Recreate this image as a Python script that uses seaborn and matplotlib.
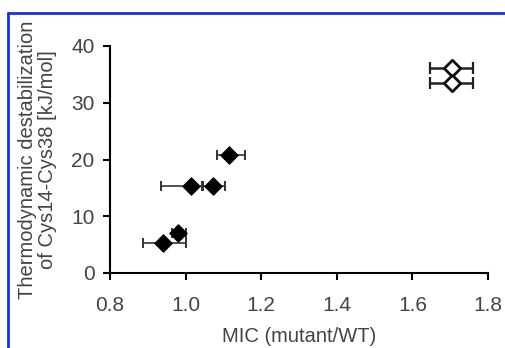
import matplotlib
matplotlib.use("Agg")
import matplotlib.pyplot as plt
import seaborn as sns
import pandas as pd
from matplotlib.lines import Line2D

sns.set_theme(style="ticks")
plt.rcParams['font.family'] = ['Liberation Sans', 'DejaVu Sans']

# filled diamonds
mic_filled = [0.941, 0.979, 1.014, 1.073, 1.115]
dG_filled = [5.3, 7.0, 15.4, 15.4, 20.8]
err_lo_filled = [0.055, 0.015, 0.079, 0.028, 0.032]
err_hi_filled = [0.059, 0.021, 0.030, 0.031, 0.042]
# open diamonds
mic_open = [1.704, 1.704]
dG_open = [36.1, 33.4]
err_lo_open = [0.057, 0.057]
err_hi_open = [0.057, 0.057]

df_f = pd.DataFrame({"MIC": mic_filled, "dG": dG_filled})
df_o = pd.DataFrame({"MIC": mic_open, "dG": dG_open})

fig = plt.figure(figsize=(5.06, 3.48), dpi=100)
ax = fig.add_axes([110/506, 1-273/348, (488-110)/506, (273-46)/348])

ax.errorbar(mic_filled, dG_filled, xerr=[err_lo_filled, err_hi_filled], fmt='none',
            ecolor='#333333', elinewidth=1.2, capsize=3.5, capthick=1.4, zorder=1)
ax.errorbar(mic_open, dG_open, xerr=[err_lo_open, err_hi_open], fmt='none',
            ecolor='#222222', elinewidth=1.8, capsize=4, capthick=1.6, zorder=1)
sns.scatterplot(data=df_f, x="MIC", y="dG", marker='D', s=80, color='black',
                edgecolor='black', ax=ax, zorder=3)
sns.scatterplot(data=df_o, x="MIC", y="dG", marker='D', s=70, facecolor='white',
                edgecolor='#111111', linewidth=2, ax=ax, zorder=3)

ax.set_xlim(0.8, 1.8)
ax.set_ylim(0, 40)
ax.set_xticks([0.8, 1.0, 1.2, 1.4, 1.6, 1.8])
ax.set_xticklabels(["0.8", "1.0", "1.2", "1.4", "1.6", "1.8"])
ax.set_yticks([0, 10, 20, 30, 40])
sns.despine(ax=ax)
ax.spines['left'].set_linewidth(1.5)
ax.spines['bottom'].set_linewidth(1.5)
ax.spines['left'].set_color('black')
ax.spines['bottom'].set_color('black')
ax.tick_params(axis='both', direction='out', length=5, width=1.5, colors='black',
               labelsize=15, labelcolor='#444444', pad=6)
ax.tick_params(axis='x', pad=11.5)
ax.set_xlabel("MIC (mutant/WT)", fontsize=14.5, color='#444444', labelpad=9)
ax.set_ylabel("Thermodynamic destabilization\nof Cys14-Cys38 [kJ/mol]", fontsize=14.5,
              color='#444444', labelpad=10, linespacing=1.12)
ax.set_facecolor('white')

# blue frame
fig.add_artist(Line2D([8/506, 1], [1-13/348, 1-13/348], transform=fig.transFigure,
                      color='#1a2cf0', lw=2))
fig.add_artist(Line2D([8/506, 8/506], [0, 1-13/348], transform=fig.transFigure,
                      color='#1a2cf0', lw=2))

fig.savefig("out.png", dpi=100)
